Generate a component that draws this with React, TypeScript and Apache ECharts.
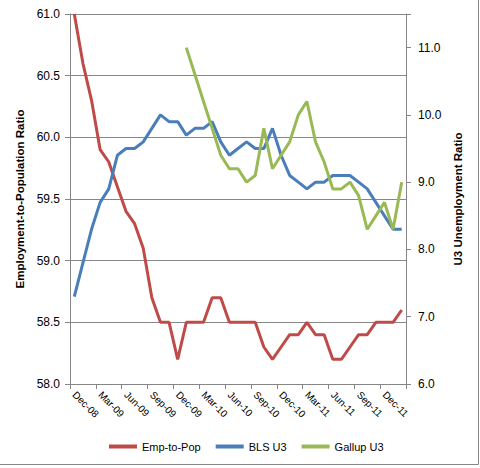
import React, { useEffect, useRef } from "react";
import * as echarts from "echarts";

// Monthly categories, Dec 2008 through Feb 2012
const months = [
  "Dec-08",
  "Jan-09", "Feb-09", "Mar-09", "Apr-09", "May-09", "Jun-09",
  "Jul-09", "Aug-09", "Sep-09", "Oct-09", "Nov-09", "Dec-09",
  "Jan-10", "Feb-10", "Mar-10", "Apr-10", "May-10", "Jun-10",
  "Jul-10", "Aug-10", "Sep-10", "Oct-10", "Nov-10", "Dec-10",
  "Jan-11", "Feb-11", "Mar-11", "Apr-11", "May-11", "Jun-11",
  "Jul-11", "Aug-11", "Sep-11", "Oct-11", "Nov-11", "Dec-11",
  "Jan-12", "Feb-12",
];

// Employment-to-population ratio (left axis)
const empToPop = [
  61.0,
  60.6, 60.3, 59.9, 59.8, 59.6, 59.4, 59.3, 59.1, 58.7, 58.5, 58.5, 58.2,
  58.5, 58.5, 58.5, 58.7, 58.7, 58.5, 58.5, 58.5, 58.5, 58.3, 58.2, 58.3,
  58.4, 58.4, 58.5, 58.4, 58.4, 58.2, 58.2, 58.3, 58.4, 58.4, 58.5, 58.5,
  58.5, 58.6,
];

// BLS U3 unemployment rate (right axis)
const blsU3 = [
  7.3,
  7.8, 8.3, 8.7, 8.9, 9.4, 9.5, 9.5, 9.6, 9.8, 10.0, 9.9, 9.9,
  9.7, 9.8, 9.8, 9.9, 9.6, 9.4, 9.5, 9.6, 9.5, 9.5, 9.8, 9.4,
  9.1, 9.0, 8.9, 9.0, 9.0, 9.1, 9.1, 9.1, 9.0, 8.9, 8.7, 8.5,
  8.3, 8.3,
];

// Gallup U3 unemployment (right axis), series begins Jan-10
const gallupU3: (number | null)[] = [
  null,
  null, null, null, null, null, null, null, null, null, null, null, null,
  11.0, 10.6, 10.2, 9.8, 9.4, 9.2, 9.2, 9.0, 9.1, 9.8, 9.2, 9.4,
  9.6, 10.0, 10.2, 9.6, 9.3, 8.9, 8.9, 9.0, 8.8, 8.3, 8.5, 8.7,
  8.3, 9.0,
];

const FONT = "'Liberation Sans', Arial, sans-serif";
const GRID_GRAY = "#868686";

export default function App() {
  const ref = useRef<HTMLDivElement>(null);

  useEffect(() => {
    if (!ref.current) return;
    const chart = echarts.init(ref.current, null, { renderer: "svg" });

    const axisLine = { show: true, lineStyle: { color: GRID_GRAY, width: 1 } };
    const axisTick = { show: true, length: 5, lineStyle: { color: GRID_GRAY, width: 1 } };

    chart.setOption({
      animation: false,
      backgroundColor: "#ffffff",
      textStyle: { fontFamily: FONT },
      grid: { left: 70, right: 74, top: 14, bottom: 84 },
      legend: {
        left: 104,
        top: 436,
        icon: "rect",
        itemWidth: 28,
        itemHeight: 4,
        itemGap: 15,
        textStyle: { fontSize: 11, color: "#000", fontFamily: FONT },
        data: ["Emp-to-Pop", "BLS U3", "Gallup U3"],
      },
      xAxis: {
        type: "category",
        data: months,
        boundaryGap: true,
        axisLine,
        axisTick: { ...axisTick, interval: 2 },
        axisLabel: {
          interval: 2,
          rotate: -45,
          fontSize: 10,
          color: "#000",
          margin: 9,
          fontFamily: FONT,
        },
        splitLine: { show: false },
      },
      yAxis: [
        {
          type: "value",
          position: "left",
          min: 58,
          max: 61,
          interval: 0.5,
          name: "Employment-to-Population Ratio",
          nameLocation: "middle",
          nameRotate: 90,
          nameGap: 37,
          nameTextStyle: { fontWeight: "bold", fontSize: 11.5, color: "#000", fontFamily: FONT },
          axisLine,
          axisTick,
          axisLabel: {
            fontSize: 12,
            color: "#000",
            margin: 10,
            fontFamily: FONT,
            formatter: (v: number) => v.toFixed(1),
          },
          splitLine: { show: true, lineStyle: { color: GRID_GRAY, width: 1 } },
        },
        {
          type: "value",
          position: "right",
          min: 6,
          max: 11.5,
          interval: 1,
          name: "U3 Unemployment Ratio",
          nameLocation: "middle",
          nameRotate: 90,
          nameGap: 43,
          nameTextStyle: { fontWeight: "bold", fontSize: 11.5, color: "#000", fontFamily: FONT },
          axisLine,
          axisTick,
          axisLabel: {
            fontSize: 12,
            color: "#000",
            margin: 12,
            fontFamily: FONT,
            formatter: (v: number) => (v > 11.01 ? "" : v.toFixed(1)),
          },
          splitLine: { show: false },
        },
      ],
      series: [
        {
          name: "Emp-to-Pop",
          type: "line",
          yAxisIndex: 0,
          data: empToPop,
          symbol: "none",
          lineStyle: { color: "#BE4B48", width: 3 },
          itemStyle: { color: "#BE4B48" },
        },
        {
          name: "BLS U3",
          type: "line",
          yAxisIndex: 1,
          data: blsU3,
          symbol: "none",
          lineStyle: { color: "#4A7EBB", width: 3 },
          itemStyle: { color: "#4A7EBB" },
        },
        {
          name: "Gallup U3",
          type: "line",
          yAxisIndex: 1,
          data: gallupU3,
          symbol: "none",
          lineStyle: { color: "#98B954", width: 3 },
          itemStyle: { color: "#98B954" },
        },
      ],
      graphic: [
        {
          type: "rect",
          silent: true,
          shape: { x: -2.5, y: -2.5, width: 481, height: 467 },
          style: { fill: "none", stroke: GRID_GRAY, lineWidth: 1 },
        },
      ],
    });

    return () => chart.dispose();
  }, []);

  return (
    <div
      ref={ref}
      style={{ position: "fixed", left: 0, top: 0, width: 480, height: 468 }}
    />
  );
}
